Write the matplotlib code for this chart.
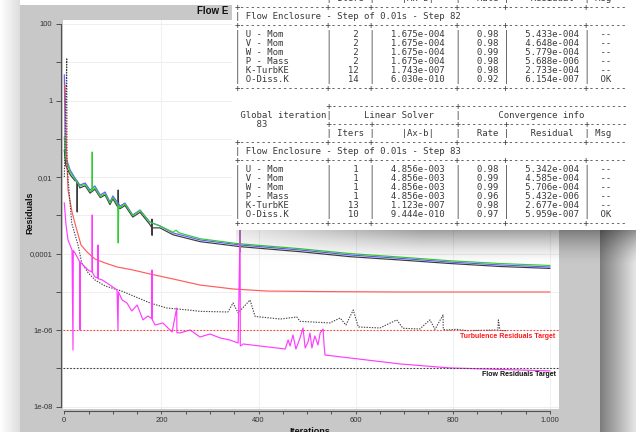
import matplotlib
matplotlib.use('Agg')
import matplotlib.pyplot as plt
import numpy as np
from matplotlib.patches import Rectangle
from matplotlib.ticker import NullLocator

# residual histories (iteration, residual)
u_it = [0, 2, 5, 12, 22, 32, 43, 53, 63, 74, 84, 94, 100, 115, 125, 141, 156, 176, 197, 224,
        280, 362, 486, 589, 692, 795, 898, 1000]
u_res = [4.65, 0.05, 0.0279, 0.0153, 0.00946, 0.0062, 0.0070, 0.00459, 0.00585, 0.0034, 0.00407,
         0.00223, 0.00321, 0.00175, 0.0021, 0.00102, 0.00138, 0.00067, 0.000527, 0.000346,
         0.000227, 0.000168, 0.000124, 9.2e-5, 7.5e-5, 6.0e-5, 5.05e-5, 4.47e-5]

v_it = [0, 2, 5, 12, 22, 32, 43, 53, 57, 57.5, 58, 63, 74, 84, 94, 100, 110, 111, 112, 115, 125,
        141, 156, 176, 197, 224, 230, 236, 280, 361, 362, 362.5, 363, 486, 589, 692, 795, 898, 1000]
v_res = [0.111, 0.04, 0.025, 0.0135, 0.0088, 0.0058, 0.0064, 0.0042, 0.0045, 0.0452, 0.0045,
         0.0052, 0.0031, 0.0037, 0.0021, 0.0029, 0.0019, 0.000189, 0.0018, 0.0016, 0.0020,
         0.00098, 0.00135, 0.00066, 0.00053, 0.00036, 0.00041, 0.00035, 0.000245, 0.00018,
         0.001, 0.00011, 0.00018, 0.000134, 0.0001, 8.1e-5, 6.5e-5, 5.5e-5, 4.9e-5]

w_it = [0, 3, 12, 22, 26, 26.5, 27, 32, 43, 53, 63, 74, 84, 94, 100, 110, 111, 112, 115, 125,
        141, 156, 176, 180, 180.5, 180.8, 181, 197, 224, 280, 362, 486, 589, 692, 795, 898, 1000]
w_res = [0.05, 0.02, 0.0115, 0.0080, 0.0078, 0.00122, 0.0075, 0.0052, 0.0059, 0.0038, 0.0048,
         0.0029, 0.0034, 0.0019, 0.0027, 0.00165, 0.00459, 0.00155, 0.0015, 0.0018, 0.0009,
         0.0012, 0.00058, 0.00048, 0.0008, 0.0003, 0.00047, 0.00047, 0.00031, 0.000205,
         0.000152, 0.000112, 8.3e-5, 6.8e-5, 5.5e-5, 4.6e-5, 4.1e-5]

p_it = [0, 3.5, 7.6, 15.9, 17.9, 18.5, 22, 32, 32.5, 33, 49, 57, 57.5, 58, 63, 69, 69.5, 70, 78,
        94, 108.5, 110.6, 111.5, 119, 129, 139, 150, 162, 172, 180, 180.5, 181, 187, 203, 222,
        231.5, 232, 238, 259, 279.5, 300, 321, 341, 358, 362, 362.5, 365, 368, 455, 461, 465,
        471, 477, 485.5, 491.7, 496, 502, 506, 510, 516, 522.5, 527, 533, 535, 537, 691, 794, 1000]
p_res = [0.0021, 0.00056, 0.000227, 0.000124, 3.03e-7, 0.00012, 0.000104, 6.04e-5, 1.01e-6,
         6.0e-5, 3.73e-5, 3.3e-5, 0.00102, 3.2e-5, 2.45e-5, 2.3e-5, 0.000168, 2.2e-5, 2.05e-5,
         1.51e-5, 1.12e-5, 1.01e-6, 1.0e-5, 6.14e-6, 5.13e-6, 3.17e-6, 4.54e-6, 1.85e-6, 2.34e-6,
         2.0e-6, 3.73e-5, 1.9e-6, 1.36e-6, 1.54e-6, 8.95e-7, 3.79e-6, 8.6e-7, 8.43e-7, 1.01e-6,
         6.62e-7, 7.94e-7, 6.24e-7, 5.53e-7, 4.62e-7, 0.0005, 3.85e-7, 4.0e-7, 4.35e-7, 3.22e-7,
         5.53e-7, 3.85e-7, 7.5e-7, 3.22e-7, 6.24e-7, 1.14e-6, 3.42e-7, 4.91e-7, 8.43e-7, 3.42e-7,
         7.04e-7, 4.09e-7, 8.43e-7, 1.07e-6, 4.09e-7, 2.24e-7, 1.31e-7, 1.03e-7, 8.6e-8]

k_it = [1.4, 4.5, 7.6, 15.9, 24, 34.4, 46.8, 63, 84, 108.5, 141.4, 176.5, 224, 279.5, 347.5,
        417.5, 521, 691, 1000]
k_res = [2.55, 0.051, 0.00459, 0.00122, 0.000497, 0.000168, 0.00011, 7.24e-5, 5.69e-5, 4.47e-5,
         3.73e-5, 2.93e-5, 2.17e-5, 1.51e-5, 1.19e-5, 1.05e-5, 1.02e-5, 9.93e-6, 9.93e-6]

o_it = [0, 5, 5.6, 15.2, 28.8, 35.8, 49.4, 63.2, 83.8, 118, 152.4, 176.5, 211, 255, 279.5, 337,
        347.5, 358, 382.5, 393, 445, 478.7, 485.5, 547, 568, 580, 595, 605.6, 650, 684.6, 697.6,
        732, 753, 763.5, 780, 780.5, 787.6, 808, 829, 893, 894, 897.4, 911]
o_res = [0.01, 12.9, 0.02, 0.00063, 0.000158, 5.69e-5, 3.12e-5, 2.05e-5, 1.43e-5, 1.05e-5,
         6.92e-6, 5.13e-6, 3.79e-6, 3.36e-6, 3.1e-6, 2.98e-6, 5.13e-6, 2.81e-6, 6.14e-6, 2.28e-6,
         1.95e-6, 2.21e-6, 1.7e-6, 1.54e-6, 2.08e-6, 1.36e-6, 3.36e-6, 1.21e-6, 1.14e-6, 1.85e-6,
         1.12e-6, 1.07e-6, 1.85e-6, 1.05e-6, 2.49e-6, 1.05e-6, 1.01e-6, 1.05e-6, 9.7e-7, 1.01e-6,
         1.85e-6, 9.8e-7, 9.7e-7]

turb_target = 1e-6
flow_target = 1e-7

y_ticks = [100, 10, 1, 0.1, 0.01, 0.001, 0.0001, 1e-5, 1e-6, 1e-7, 1e-8]
y_labels = ['100', '', '1', '', '0,01', '', '0,0001', '', '1e-06', '', '1e-08']
x_ticks = list(range(0, 1001, 50))
x_labels = {0: '0', 200: '200', 400: '400', 600: '600', 800: '800', 1000: '1.000'}

# console panel text
names = ['U - Mom', 'V - Mom', 'W - Mom', 'P - Mass', 'K-TurbKE', 'O-Diss.K']
iters82 = ['2', '2', '2', '2', '12', '14']
axb82 = ['1.675e-004'] * 4 + ['1.743e-007', '6.030e-010']
rate82 = ['0.98', '0.98', '0.99', '0.98', '0.98', '0.92']
res82 = ['5.433e-004', '4.648e-004', '5.779e-004', '5.688e-006', '2.733e-004', '6.154e-007']
iters83 = ['1', '1', '1', '1', '13', '10']
axb83 = ['4.856e-003'] * 4 + ['1.123e-007', '9.444e-010']
rate83 = ['0.98', '0.99', '0.99', '0.96', '0.98', '0.97']
res83 = ['5.342e-004', '4.585e-004', '5.706e-004', '5.432e-006', '2.677e-004', '5.959e-007']
msgs = ['--'] * 5 + ['OK']

W, H = 636, 432
fig = plt.figure(figsize=(W / 100, H / 100), dpi=100)
fig.patch.set_facecolor('white')


def fx(px):
    return px / W


def fy(py):
    return 1 - py / H


# ---- screenshot background
bg = fig.add_axes([0, 0, 1, 1], zorder=0)
g = np.linspace(1.0, 0.87, 64)[None, :]
bg.imshow(np.dstack([g] * 3), extent=(0, 20, H, 0), aspect='auto')
bg.add_patch(Rectangle((20, 5), 580, H, color='#c8c8c8', lw=0))
g = np.linspace(0.42, 0.9, 64)[None, :]
bg.imshow(np.dstack([g] * 3), extent=(594, W, H, 0), aspect='auto')
bg.set_xlim(0, W)
bg.set_ylim(H, 0)
bg.axis('off')

# ---- residual chart
ax = fig.add_axes([fx(63), fy(409), fx(559) - fx(63), fy(20) - fy(409)], zorder=2)
ax.set_facecolor('white')
ax.set_yscale('log')

for xv in [200, 400, 600, 800, 1000]:
    ax.axvline(xv, color='#f0f0f0', lw=0.7, zorder=0)
for yv in y_ticks:
    ax.axhline(yv, color='#eeeeee', lw=0.7, zorder=0)

ax.plot(w_it, w_res, color='#3c3c3c', lw=0.85)
ax.plot(u_it, u_res, color='#5c5cff', lw=0.85)
ax.plot(v_it, v_res, color='#33cc33', lw=0.85)
ax.plot(k_it, k_res, color='#ff5c5c', lw=0.85)
ax.plot(o_it, o_res, color='#404040', lw=0.8, ls=(0, (1.2, 1.2)))
ax.plot(p_it, p_res, color='#ff3cff', lw=0.85)

ax.axhline(turb_target, color='#ff4040', lw=0.8, ls=(0, (1.5, 1.5)))
ax.axhline(flow_target, color='#404040', lw=0.8, ls=(0, (1.5, 1.5)))
ax.text(1012, 6.97e-7, 'Turbulence Residuals Target', ha='right', va='center',
        color='#ff1a1a', fontsize=5, fontweight='bold', family='Liberation Sans')
ax.text(1012, 7.03e-8, 'Flow Residuals Target', ha='right', va='center',
        color='#111111', fontsize=5, fontweight='bold', family='Liberation Sans')

ax.set_xlim(-2.7, 1018.9)
ax.set_ylim(8.7e-9, 127)
for s in ['top', 'right']:
    ax.spines[s].set_visible(False)
ax.spines['left'].set_position(('outward', 1.5))
ax.spines['left'].set_bounds(1e-8, 100)
ax.spines['bottom'].set_position(('outward', 1.3))
ax.spines['bottom'].set_bounds(0, 1000)
for s in ['left', 'bottom']:
    ax.spines[s].set_color('#505050')
    ax.spines[s].set_linewidth(0.8)

ax.set_yticks(y_ticks)
ax.set_yticklabels(y_labels)
ax.yaxis.set_minor_locator(NullLocator())
ax.set_xticks(x_ticks)
ax.set_xticklabels([x_labels.get(v, '') for v in x_ticks])
ax.tick_params(axis='y', length=3.6, width=0.7, color='#505050', labelsize=5.5, pad=2.5,
               labelcolor='#333333')
ax.tick_params(axis='x', length=2.2, width=0.7, color='#505050', labelsize=5.5, pad=2.5,
               labelcolor='#333333')
for lab in ax.get_xticklabels() + ax.get_yticklabels():
    lab.set_family('Liberation Sans')

# only the start of the title shows; the console window hides the rest
fig.text(fx(197), fy(10.5), 'Flow E', ha='left', va='center',
         fontsize=7, fontweight='bold', family='Liberation Sans', color='#111111', zorder=1)
fig.text(fx(30), fy(213), 'Residuals', rotation=90, ha='center', va='center',
         fontsize=6.5, fontweight='bold', family='Liberation Sans', color='#111111')
fig.text(fx(310), fy(431), 'Iterations', ha='center', va='center',
         fontsize=6.5, fontweight='bold', family='Liberation Sans', color='#111111')

# ---- console window laid over the chart
ov = fig.add_axes([0, 0, 1, 1], zorder=5)
ov.patch.set_alpha(0)
rows = np.linspace(0, 1, 40)[:, None]
cols = np.linspace(0, 1, 200)[None, :]
shade = np.zeros((40, 200, 4))
shade[..., 3] = 0.38 * (1 - rows) ** 1.6 * np.clip(0.25 + cols * 1.6, 0, 1)
ov.imshow(shade, extent=(236, W, 266, 230), aspect='auto', interpolation='bilinear')
ov.add_patch(Rectangle((232, -2), 410, 232, color='white', lw=0))


def grid_line(items, fill=' ', start=0, n=73):
    s = [' '] * start + [fill] * (n - start)
    for pos, txt in items:
        s[pos:pos + len(txt)] = list(txt)
    return ''.join(s)[:n]


cols_all = [0, 17, 25, 41, 50, 65]
sep_full = grid_line([(p, '+') for p in cols_all], fill='-')
header = grid_line([(17, '|'), (19, 'Iters'), (25, '|'), (31, '|Ax-b|'), (41, '|'),
                    (45, 'Rate'), (50, '|'), (55, 'Residual'), (65, '|'), (67, 'Msg')])


def data_rows(iters, axb, rate, res):
    out = []
    for i in range(len(names)):
        out.append(grid_line([(0, '|'), (2, names[i]), (17, '|'), (23 - len(iters[i]), iters[i]),
                              (25, '|'), (29, axb[i]), (41, '|'), (45, rate[i]), (50, '|'),
                              (54, res[i]), (65, '|'), (68, msgs[i])]))
    return out


lines = [header, sep_full,
         grid_line([(0, '|'), (2, 'Flow Enclosure - Step of 0.01s - Step 82')]),
         sep_full]
lines += data_rows(iters82, axb82, rate82, res82)
lines += [sep_full, '',
          grid_line([(17, '+'), (41, '+')], fill='-', start=17),
          grid_line([(1, 'Global iteration'), (17, '|'), (24, 'Linear Solver'), (41, '|'),
                     (49, 'Convergence info')]),
          grid_line([(4, '83')] + [(p, '+') for p in cols_all[1:]], fill='-', start=17),
          header, sep_full,
          grid_line([(0, '|'), (2, 'Flow Enclosure - Step of 0.01s - Step 83')]),
          sep_full]
lines += data_rows(iters83, axb83, rate83, res83)
lines += [sep_full]

for k, line in enumerate(lines):
    ov.text(235, -1.3 + 8.98 * k, line, ha='left', va='center', family='DejaVu Sans Mono',
            fontsize=6.53, color='#3a3a3a', clip_on=True)

ov.set_xlim(0, W)
ov.set_ylim(H, 0)
ov.axis('off')

fig.savefig('out.png', dpi=100)
